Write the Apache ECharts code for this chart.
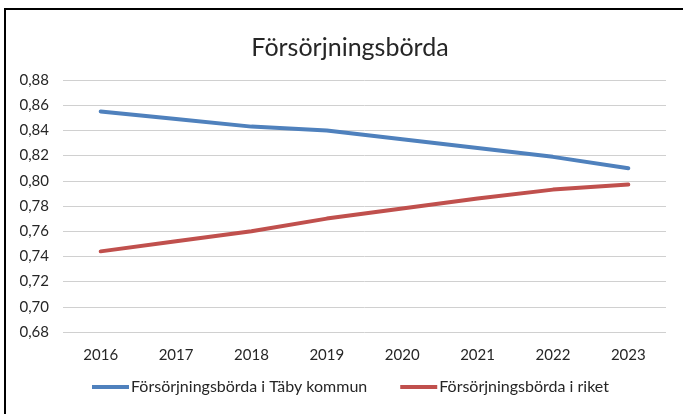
<!DOCTYPE html>
<html>
<head>
<meta charset="utf-8">
<script src="https://cdn.jsdelivr.net/npm/echarts@6/dist/echarts.min.js"></script>
<style>
  html, body { margin: 0; padding: 0; background: #fff; }
  #chart { width: 683px; height: 414px; }
</style>
</head>
<body>
<div id="chart"></div>
<script>
var years = ["2016", "2017", "2018", "2019", "2020", "2021", "2022", "2023"];
var taby = [0.855, 0.849, 0.843, 0.840, 0.833, 0.826, 0.819, 0.810];
var riket = [0.744, 0.752, 0.760, 0.770, 0.778, 0.786, 0.793, 0.797];

var fontName = "Lato, 'Open Sans', sans-serif";
var textColor = "#262626";

var myChart = echarts.init(document.getElementById("chart"), null, { renderer: "canvas" });

myChart.setOption({
    animation: false,
    backgroundColor: "#fff",
    title: {
        text: "Försörjningsbörda",
        left: 345,
        top: 30,
        textAlign: "center",
        textStyle: { fontFamily: fontName, fontSize: 25, fontWeight: "normal", color: textColor }
    },
    legend: {
        bottom: 14,
        left: 87,
        itemGap: 33,
        itemWidth: 37,
        itemHeight: 4,
        icon: "rect",
        textStyle: { fontFamily: fontName, fontSize: 16, color: textColor, padding: [0, 0, 0, -3] },
        data: ["Försörjningsbörda i Täby kommun", "Försörjningsbörda i riket"]
    },
    grid: { left: 63, right: 17, top: 80, bottom: 82 },
    xAxis: {
        type: "category",
        data: years,
        boundaryGap: true,
        axisLine: { show: false },
        axisTick: { show: false },
        axisLabel: { margin: 16, fontFamily: fontName, fontSize: 15, color: textColor }
    },
    yAxis: {
        type: "value",
        min: 0.68,
        max: 0.88,
        interval: 0.02,
        axisLine: { show: false },
        axisTick: { show: false },
        splitLine: { lineStyle: { color: "#d0d0d0", width: 1 } },
        axisLabel: {
            margin: 14,
            fontFamily: fontName,
            fontSize: 15,
            color: textColor,
            formatter: function (v) { return v.toFixed(2).replace(".", ","); }
        }
    },
    series: [{
        name: "Försörjningsbörda i Täby kommun",
        type: "line",
        data: taby,
        showSymbol: false,
        lineStyle: { color: "#4f81bd", width: 4, cap: "round" },
        itemStyle: { color: "#4f81bd" }
    }, {
        name: "Försörjningsbörda i riket",
        type: "line",
        data: riket,
        showSymbol: false,
        lineStyle: { color: "#c0504d", width: 4, cap: "round" },
        itemStyle: { color: "#c0504d" }
    }],
    graphic: [{
        type: "rect",
        shape: { x: 5, y: 9, width: 720, height: 440 },
        style: { fill: null, stroke: "#000", lineWidth: 2 },
        silent: true
    }]
});
</script>
</body>
</html>
